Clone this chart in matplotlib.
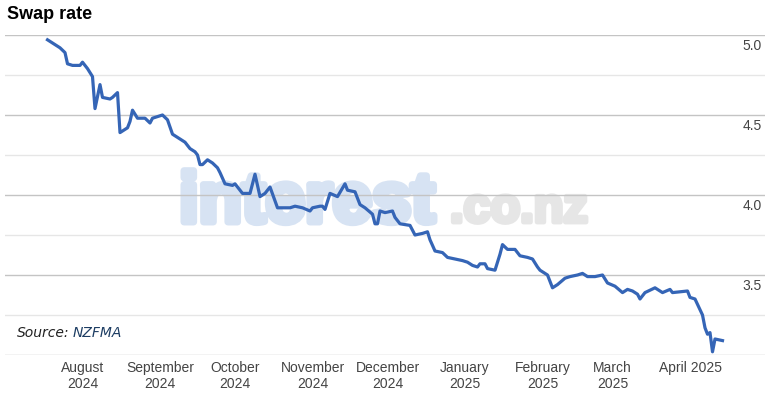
import matplotlib
matplotlib.use("Agg")
import matplotlib.pyplot as plt
import matplotlib.patheffects as pe
from matplotlib.transforms import offset_copy
import numpy as np

# swap rate
dates = [
    "2024-07-18", "2024-07-20", "2024-07-23", "2024-07-25", "2024-07-26", "2024-07-28", "2024-07-31",
    "2024-08-01", "2024-08-03", "2024-08-05", "2024-08-06", "2024-08-08", "2024-08-09", "2024-08-12",
    "2024-08-13", "2024-08-15", "2024-08-16", "2024-08-19", "2024-08-20", "2024-08-21", "2024-08-23",
    "2024-08-26", "2024-08-28", "2024-08-29",
    "2024-09-02", "2024-09-04", "2024-09-06", "2024-09-09", "2024-09-11", "2024-09-13", "2024-09-15",
    "2024-09-16", "2024-09-17", "2024-09-18", "2024-09-20", "2024-09-22", "2024-09-24", "2024-09-25",
    "2024-09-27", "2024-09-30",
    "2024-10-01", "2024-10-03", "2024-10-04", "2024-10-07", "2024-10-09", "2024-10-11", "2024-10-13",
    "2024-10-15", "2024-10-18", "2024-10-23", "2024-10-25", "2024-10-28", "2024-10-31",
    "2024-11-01", "2024-11-04", "2024-11-05", "2024-11-06", "2024-11-08", "2024-11-11", "2024-11-14",
    "2024-11-15", "2024-11-18", "2024-11-20", "2024-11-22", "2024-11-25", "2024-11-26", "2024-11-27",
    "2024-11-28", "2024-11-30",
    "2024-12-03", "2024-12-04", "2024-12-06", "2024-12-10", "2024-12-12", "2024-12-15", "2024-12-17",
    "2024-12-18", "2024-12-20", "2024-12-23", "2024-12-25", "2024-12-28", "2024-12-31",
    "2025-01-02", "2025-01-04", "2025-01-06", "2025-01-07", "2025-01-09", "2025-01-10", "2025-01-13",
    "2025-01-15", "2025-01-16", "2025-01-18", "2025-01-21", "2025-01-23", "2025-01-26", "2025-01-28",
    "2025-01-30", "2025-01-31",
    "2025-02-02", "2025-02-03", "2025-02-05", "2025-02-07", "2025-02-10", "2025-02-12", "2025-02-15",
    "2025-02-17", "2025-02-19", "2025-02-22", "2025-02-25", "2025-02-27",
    "2025-03-02", "2025-03-05", "2025-03-07", "2025-03-09", "2025-03-11", "2025-03-12", "2025-03-14",
    "2025-03-18", "2025-03-21", "2025-03-24", "2025-03-25", "2025-03-31",
    "2025-04-01", "2025-04-03", "2025-04-06", "2025-04-07", "2025-04-08", "2025-04-09", "2025-04-10",
    "2025-04-11", "2025-04-14",
]
rates = [
    4.97, 4.95, 4.92, 4.89, 4.82, 4.81, 4.81,
    4.83, 4.79, 4.74, 4.54, 4.69, 4.61, 4.60,
    4.61, 4.64, 4.39, 4.42, 4.46, 4.53, 4.48,
    4.48, 4.45, 4.48,
    4.50, 4.47, 4.38, 4.35, 4.33, 4.29, 4.27,
    4.25, 4.19, 4.19, 4.22, 4.20, 4.17, 4.14,
    4.07, 4.06,
    4.07, 4.03, 4.01, 4.01, 4.13, 3.99, 4.01,
    4.05, 3.92, 3.92, 3.93, 3.92, 3.90,
    3.92, 3.93, 3.93, 3.91, 4.01, 3.99, 4.07,
    4.03, 4.02, 3.94, 3.92, 3.88, 3.82, 3.82,
    3.90, 3.89,
    3.90, 3.86, 3.82, 3.81, 3.75, 3.76, 3.77,
    3.72, 3.65, 3.64, 3.61, 3.60, 3.59,
    3.58, 3.56, 3.55, 3.57, 3.57, 3.54, 3.53,
    3.63, 3.69, 3.66, 3.66, 3.62, 3.61, 3.60,
    3.55, 3.53,
    3.51, 3.50, 3.42, 3.44, 3.48, 3.49, 3.50,
    3.51, 3.49, 3.49, 3.50, 3.45,
    3.43, 3.39, 3.41, 3.40, 3.38, 3.35, 3.39,
    3.42, 3.39, 3.41, 3.39, 3.40,
    3.36, 3.35, 3.25, 3.17, 3.13, 3.14, 3.02,
    3.10, 3.09,
]

month_ticks = ["2024-08-01", "2024-09-01", "2024-10-01", "2024-11-01", "2024-12-01",
               "2025-01-01", "2025-02-01", "2025-03-01", "2025-04-01"]
month_labels = ["August\n2024", "September\n2024", "October\n2024", "November\n2024",
                "December\n2024", "January\n2025", "February\n2025", "March\n2025", "April 2025"]
major_y = [3.0, 3.5, 4.0, 4.5, 5.0]
minor_y = [3.25, 3.75, 4.25, 4.75]
label_y = [3.5, 4.0, 4.5, 5.0]

x = np.array(dates, dtype="datetime64[D]")

fig = plt.figure(figsize=(7.71, 3.95), dpi=100)
ax = fig.add_axes([5 / 771, 40 / 395, 760 / 771, 320 / 395])

ax.plot(x, rates, color="#3565b6", lw=2.3, solid_joinstyle="round", zorder=3)

ax.set_xlim(np.datetime64("2024-07-01"), np.datetime64("2025-05-01"))
ax.set_ylim(3.0, 5.0)

for s in ax.spines.values():
    s.set_visible(False)

ax.set_yticks(major_y)
ax.set_yticks(minor_y, minor=True)
ax.set_yticklabels([])
ax.tick_params(axis="y", which="both", length=0)
ax.grid(axis="y", which="major", color="#c4c4c4", lw=1.0)
ax.grid(axis="y", which="minor", color="#e6e6e6", lw=1.0)
ax.set_axisbelow(True)

ax.set_xticks(np.array(month_ticks, dtype="datetime64[D]"))
ax.set_xticklabels(month_labels, fontsize=10, color="#444444", linespacing=1.25,
                   family="Liberation Sans")
ax.tick_params(axis="x", length=0, pad=4)

# right side value labels sit just under their gridline
lab_tr = offset_copy(ax.get_yaxis_transform(), fig=fig, x=-3, y=-11, units="dots")
for v in label_y:
    ax.text(1.0, v, f"{v:.1f}", transform=lab_tr, ha="right", va="center",
            fontsize=10, color="#444444", family="Liberation Sans")

# watermark, behind the line and grid
base_y = (395 - 222) / 395
ax.text(179 / 771, base_y, "interest", transform=fig.transFigure, fontsize=51,
        fontweight="bold", color="#d7e3f3", family="Liberation Sans",
        va="baseline", ha="left", zorder=0.1,
        path_effects=[pe.withStroke(linewidth=5, foreground="#d7e3f3")])
ax.text(450 / 771, base_y, ".co.nz", transform=fig.transFigure, fontsize=35,
        fontweight="bold", color="#e6e6e6", family="Liberation Sans",
        va="baseline", ha="left", zorder=0.1,
        path_effects=[pe.withStroke(linewidth=3.5, foreground="#e6e6e6")])

fig.text(7 / 771, (395 - 19) / 395, "Swap rate", fontsize=13, fontweight="bold",
         color="black", family="Liberation Sans", va="baseline")
fig.text(17 / 771, (395 - 333) / 395, "Source:", fontsize=10, style="italic",
         color="#222222", va="center")
fig.text(73 / 771, (395 - 333) / 395, "NZFMA", fontsize=10, style="italic",
         color="#1d3d63", va="center")

fig.savefig("out.png", dpi=100)
